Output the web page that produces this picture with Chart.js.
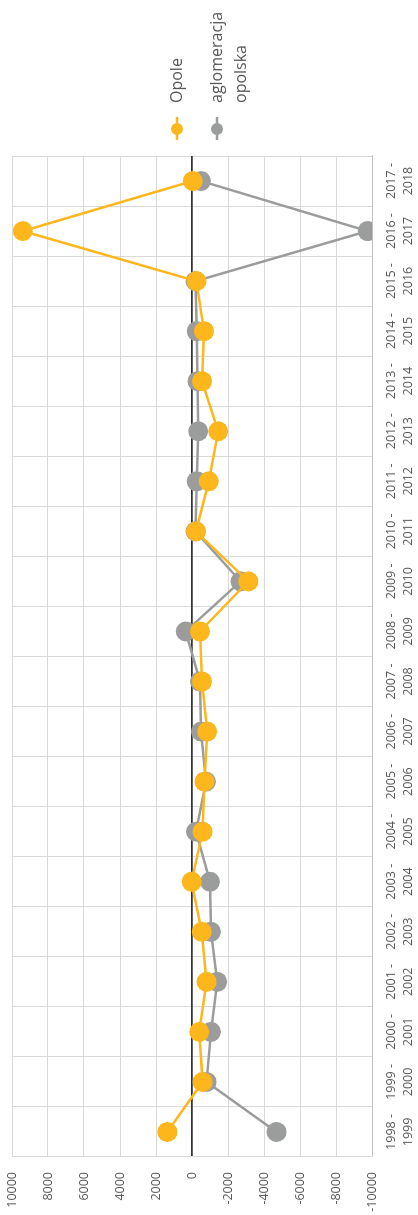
<!DOCTYPE html>
<html>
<head>
<meta charset="utf-8">
<script src="https://cdn.jsdelivr.net/npm/chart.js@4.4.1/dist/chart.umd.min.js"></script>
<style>
  html, body { margin: 0; padding: 0; background: #fff; overflow: hidden; }
  #wrap {
    position: absolute; left: 0; top: 0;
    width: 1215px; height: 418px;
    transform-origin: top left;
    transform: translateY(1215px) rotate(-90deg);
  }
</style>
</head>
<body>
<div id="wrap"><canvas id="chart" width="1215" height="418"></canvas></div>
<script>
const seasons = [
  "1998 - 1999", "1999 - 2000", "2000 - 2001", "2001 - 2002", "2002 - 2003",
  "2003 - 2004", "2004 - 2005", "2005 - 2006", "2006 - 2007", "2007 - 2008",
  "2008 - 2009", "2009 - 2010", "2010 - 2011", "2011 - 2012", "2012 - 2013",
  "2013 - 2014", "2014 - 2015", "2015 - 2016", "2016 - 2017", "2017 - 2018"
];
const opole = [1370, -590, -400, -810, -540, 20, -590, -690, -850, -560,
               -440, -3130, -220, -930, -1460, -560, -670, -250, 9400, -40];
const aglomeracja = [-4700, -810, -1050, -1400, -1050, -1000, -220, -780, -500, -440,
                     350, -2700, -200, -260, -350, -300, -260, -200, -9760, -500];

const textColor = "#595959";
const fontFamily = "'Open Sans', 'Noto Sans', sans-serif";

// legend drawn by hand so the long label can wrap onto two lines
const sideLegend = {
  id: "sideLegend",
  afterDraw(chart) {
    const ctx = chart.ctx;
    let y = 177;
    chart.data.datasets.forEach(ds => {
      ctx.save();
      ctx.strokeStyle = ds.borderColor;
      ctx.lineWidth = 2.5;
      ctx.beginPath();
      ctx.moveTo(1075, y);
      ctx.lineTo(1098, y);
      ctx.stroke();
      ctx.fillStyle = ds.backgroundColor;
      ctx.beginPath();
      ctx.arc(1086, y, 6, 0, Math.PI * 2);
      ctx.fill();

      ctx.font = "16px " + fontFamily;
      ctx.fillStyle = textColor;
      ctx.textBaseline = "middle";
      const words = ds.label.split(" ");
      const lines = [];
      let cur = "";
      words.forEach(w => {
        const test = cur ? cur + " " + w : w;
        if (cur && ctx.measureText(test).width > 95) { lines.push(cur); cur = w; }
        else cur = test;
      });
      lines.push(cur);
      lines.forEach((l, i) => ctx.fillText(l, 1112, y + i * 24));
      ctx.restore();
      y += 40;
    });
  }
};

new Chart(document.getElementById("chart"), {
  type: "line",
  data: {
    labels: seasons,
    datasets: [
      {
        label: "Opole",
        data: opole,
        borderColor: "#FDB71C",
        backgroundColor: "#FDB71C",
        borderWidth: 2.5,
        pointRadius: 10,
        pointBorderWidth: 0,
        pointHoverRadius: 10,
        tension: 0
      },
      {
        label: "aglomeracja opolska",
        data: aglomeracja,
        borderColor: "#9B9D9D",
        backgroundColor: "#9B9D9D",
        borderWidth: 2.5,
        pointRadius: 10,
        pointBorderWidth: 0,
        pointHoverRadius: 10,
        tension: 0
      }
    ]
  },
  options: {
    responsive: false,
    animation: false,
    devicePixelRatio: 1,
    layout: { padding: { top: 12, right: 156, left: 0, bottom: 0 } },
    plugins: { legend: { display: false }, tooltip: { enabled: false } },
    scales: {
      x: {
        offset: true,
        afterFit: s => { s.height = 46; },
        grid: { offset: true, color: "#d9d9d9", drawTicks: false },
        border: { color: "#bfbfbf" },
        ticks: {
          color: textColor,
          font: { family: fontFamily, size: 12.5, lineHeight: 1.35 },
          padding: 11,
          maxRotation: 0,
          autoSkip: false,
          callback: (v, i) => {
            const parts = seasons[i].split(" - ");
            return [parts[0] + " -", parts[1]];
          }
        }
      },
      y: {
        min: -10000,
        max: 10000,
        afterFit: s => { s.width = 58; s.paddingTop = 0; s.paddingBottom = 0; },
        grid: {
          drawTicks: false,
          color: c => (c.tick && c.tick.value === 0 ? "#333333" : "#d9d9d9"),
          lineWidth: c => (c.tick && c.tick.value === 0 ? 1.8 : 1)
        },
        border: { color: "#d9d9d9" },
        ticks: {
          stepSize: 2000,
          color: textColor,
          font: { family: fontFamily, size: 12.5 },
          padding: 15,
          callback: v => String(v)
        }
      }
    }
  },
  plugins: [sideLegend]
});
</script>
</body>
</html>
